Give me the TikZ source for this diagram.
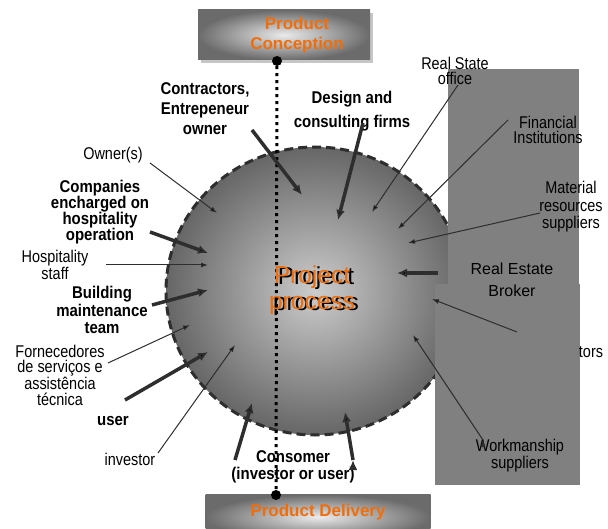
\documentclass[tikz,border=0pt]{standalone}
\usepackage{fontspec}
\setmainfont{Liberation Sans}
\newfontfamily\narrowfont[FakeStretch=0.85]{Liberation Sans}
\newfontfamily\boldnarrow[FakeStretch=0.88]{Liberation Sans Bold}
\usetikzlibrary{arrows.meta, shapes.geometric}

\definecolor{ink}{gray}{0.18}
\definecolor{boxedge}{gray}{0.42}
\definecolor{boxmid}{gray}{0.92}
\definecolor{ballmid}{gray}{0.80}
\definecolor{balledge}{gray}{0.40}
\definecolor{tangerine}{RGB}{240,110,10}

\begin{document}
\begin{tikzpicture}[x=1pt, y=-1pt, >=Latex]
\tikzstyle{weak} = [draw=ink, line width=1pt, -{Latex[length=7pt, width=5pt]}]
\tikzstyle{strong} = [draw=ink, line width=3.5pt, -{Latex[length=10pt, width=9pt]}]
\tikzstyle{lbl} = [align=center, inner sep=0pt, font=\narrowfont\fontsize{17}{15.5}\selectfont]
\tikzstyle{blbl} = [align=center, inner sep=0pt, font=\boldnarrow\fontsize{17}{16}\selectfont]
\tikzstyle{stage} = [inner sep=0pt, shading=radial, inner color=boxmid, outer color=boxedge]
\tikzstyle{stagetext} = [align=center, inner sep=0pt, text=tangerine, font=\bfseries\fontsize{17}{20}\selectfont]
\tikzstyle{dot} = [circle, fill=black, inner sep=0pt, minimum size=10pt]

\useasboundingbox (0,0) rectangle (608,529);
\clip (0,0) rectangle (608,529);

% start and end of the process
\fill[gray!45] (201,13) rectangle (373,63);
\node[stage, minimum width=172pt, minimum height=50pt] (concept) at (284,35) {};
\node[stagetext] (concepttxt) at (297,35) {Product\\Conception};
\node[stage, minimum width=225pt, minimum height=45pt] (delivery) at (318,517) {};
\node[stagetext] (deliverytxt) at (318,512) {Product Delivery};

% the process itself
\node[ellipse, minimum width=298pt, minimum height=288pt, inner sep=0pt,
      shading=radial, inner color=ballmid, outer color=balledge,
      draw=ink, line width=3pt, dash pattern=on 9pt off 5pt] (proc) at (315,291) {};

% panels on the right
\fill[gray] (448,69) rectangle (579,284);
\fill[gray] (435,284) rectangle (580,485);

% time line
\node[dot] (tdot) at (277,61) {};
\node[dot] (bdot) at (276,495) {};
\draw[black, line width=3pt, dash pattern=on 3pt off 4pt] (tdot) -- (bdot);

\node[inner sep=0pt, font=\fontsize{24.5}{26}\selectfont, align=center] (projblack) at (316,291) {Project\\process};
\node[inner sep=0pt, font=\fontsize{24.5}{26}\selectfont, align=center, text=tangerine] (projorange) at (312,290) {Project\\process};

% agents
\node[blbl] (contr) at (205,109) {Contractors,\\[4pt]Entrepeneur\\[4pt]owner};
\node[blbl] (design) at (352,111) {Design and\\[8pt]consulting firms};
\node[lbl] (rso) at (455,71) {Real State\\office};
\node[lbl] (fin) at (548,130) {Financial\\Institutions};
\node[lbl] (mat) at (571,207) {Material\\[2pt]resources\\[2pt]suppliers};
\node[inner sep=0pt, align=center, font=\fontsize{16}{22}\selectfont] (broker) at (512,280) {Real Estate\\Broker};
\node[lbl] (tors) at (591,352) {tors};
\node[lbl] (work) at (520,456) {Workmanship\\suppliers};
\node[lbl] (owner) at (113,155) {Owner(s)};
\node[blbl] (comp) at (100,212) {Companies\\encharged on\\hospitality\\operation};
\node[lbl] (hstaff) at (55,265) {Hospitality\\staff};
\node[blbl] (build) at (102,310) {Building\\[1.5pt]maintenance\\[1.5pt]team};
\node[lbl] (forn) at (60,375) {Fornecedores\\de serviços e\\assistência\\técnica};
\node[blbl] (user) at (113,421) {user};
\node[lbl] (investor) at (130,459) {investor};
\node[blbl] (cons) at (293,467) {Consomer\\[1pt](investor or user)};

% arrow ends
\coordinate (owner-t) at (150,163);   \coordinate (owner-h) at (217,213);
\coordinate (hstaff-t) at (106,265);  \coordinate (hstaff-h) at (208,265);
\coordinate (forn-t) at (108,363);    \coordinate (forn-h) at (190,325);
\coordinate (inv-t) at (158,453);     \coordinate (inv-h) at (235,345);
\coordinate (rso-t) at (458,85);      \coordinate (rso-h) at (372,212);
\coordinate (fin-t) at (508,120);     \coordinate (fin-h) at (398,229);
\coordinate (mat-t) at (540,213);     \coordinate (mat-h) at (408,243);
\coordinate (tors-t) at (517,332);    \coordinate (tors-h) at (432,299);
\coordinate (work-t) at (483,440);    \coordinate (work-h) at (413,335);
\coordinate (contr-t) at (252,130);   \coordinate (contr-h) at (302,195);
\coordinate (design-t) at (363,123);  \coordinate (design-h) at (338,220);
\coordinate (comp-t) at (150,232);    \coordinate (comp-h) at (208,253);
\coordinate (build-t) at (152,305);   \coordinate (build-h) at (208,290);
\coordinate (user-t) at (125,400);    \coordinate (user-h) at (208,352);
\coordinate (broker-t) at (438,273);  \coordinate (broker-h) at (397,273);
\coordinate (consl-t) at (235,460);   \coordinate (consl-h) at (252,403);
\coordinate (consr-t) at (353,460);   \coordinate (consr-h) at (345,412);

\path[weak]
(owner-t)	edge	(owner-h)
(hstaff-t)	edge	(hstaff-h)
(forn-t)	edge	(forn-h)
(inv-t)		edge	(inv-h)
(rso-t)		edge	(rso-h)
(fin-t)		edge	(fin-h)
(mat-t)		edge	(mat-h)
(tors-t)	edge	(tors-h)
(work-t)	edge	(work-h);

\path[strong]
(contr-t)	edge	(contr-h)
(design-t)	edge	(design-h)
(comp-t)	edge	(comp-h)
(build-t)	edge	(build-h)
(user-t)	edge	(user-h)
(broker-t)	edge	(broker-h)
(consl-t)	edge	(consl-h)
(consr-t)	edge	(consr-h);
\end{tikzpicture}
\end{document}
